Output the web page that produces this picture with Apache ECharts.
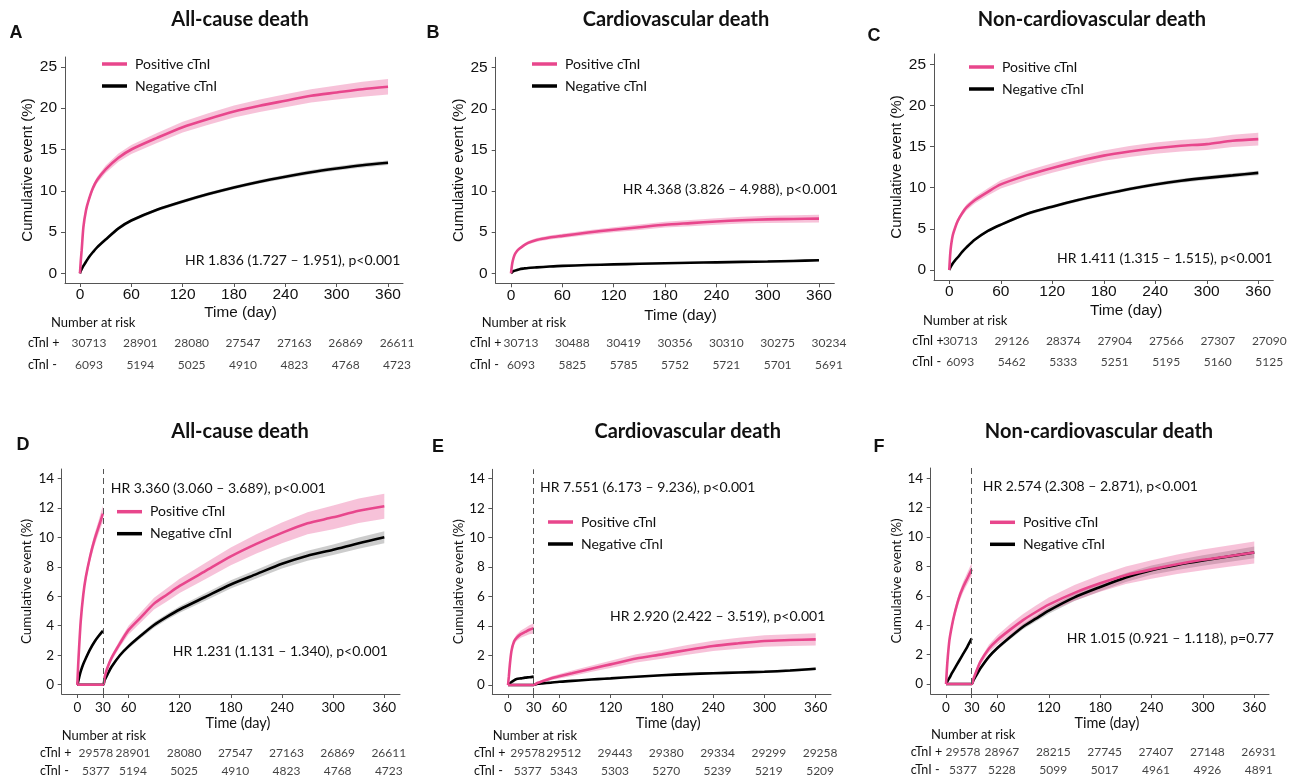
<!DOCTYPE html>
<html><head><meta charset="utf-8">
<script src="https://cdn.jsdelivr.net/npm/echarts@6/dist/echarts.min.js"></script>
<style>html,body{margin:0;padding:0;background:#fff}#c{width:1301px;height:781px}</style>
</head><body><div id="c"></div>
<script>
// ---------- time grids ----------
const topDays   = [0,1,2,4,7,10,15,20,30,45,60,90,120,150,180,210,240,270,300,330,360];
const earlyDays = [0,1,2,4,7,10,15,20,25,30];
const lateDays  = [0,30,32,35,40,50,60,75,90,105,120,150,180,210,240,270,300,330,360];
const topTicks  = [0,60,120,180,240,300,360];
const botTicks  = [0,30,60,120,180,240,300,360];
const topYTicks = [0,5,10,15,20,25];
const botYTicks = [0,2,4,6,8,10,12,14];
const topRiskDays = [0,60,120,180,240,300,360];
const botRiskDays = [30,60,120,180,240,300,360];

// ---------- Panel A : All-cause death ----------
const A_pos   = [0,1.6,2.8,5.6,7.6,8.8,10.3,11.3,12.6,14.0,15.0,16.4,17.7,18.7,19.6,20.3,20.9,21.5,21.9,22.3,22.6];
const A_posCI = [0,0.1,0.15,0.2,0.25,0.3,0.35,0.4,0.45,0.5,0.55,0.6,0.65,0.7,0.72,0.75,0.78,0.8,0.85,0.9,0.95];
const A_neg   = [0,0.3,0.5,0.9,1.4,1.9,2.55,3.15,4.1,5.45,6.4,7.7,8.7,9.6,10.4,11.1,11.7,12.25,12.7,13.1,13.4];
const A_negCI = [0,0.03,0.05,0.06,0.08,0.1,0.11,0.12,0.14,0.16,0.17,0.19,0.2,0.21,0.22,0.23,0.24,0.25,0.26,0.27,0.28];
const A_riskPos = [30713,28901,28080,27547,27163,26869,26611];
const A_riskNeg = [6093,5194,5025,4910,4823,4768,4723];

// ---------- Panel B : Cardiovascular death ----------
const B_pos   = [0,0.9,1.5,2.2,2.7,3.0,3.4,3.7,4.05,4.35,4.55,4.95,5.3,5.6,5.9,6.1,6.3,6.45,6.55,6.6,6.65];
const B_posCI = [0,0.08,0.1,0.13,0.15,0.17,0.19,0.21,0.23,0.25,0.27,0.29,0.31,0.33,0.35,0.37,0.39,0.41,0.43,0.45,0.47];
const B_neg   = [0,0.1,0.2,0.3,0.4,0.5,0.58,0.65,0.72,0.82,0.9,1.0,1.08,1.15,1.22,1.28,1.33,1.38,1.43,1.5,1.58];
const B_negCI = [0,0.02,0.03,0.04,0.05,0.06,0.06,0.07,0.07,0.08,0.08,0.09,0.09,0.1,0.1,0.11,0.11,0.12,0.12,0.13,0.13];
const B_riskPos = [30713,30488,30419,30356,30310,30275,30234];
const B_riskNeg = [6093,5825,5785,5752,5721,5701,5691];

// ---------- Panel C : Non-cardiovascular death ----------
const C_pos   = [0,1.8,2.9,4.2,5.2,6.0,6.9,7.6,8.5,9.5,10.4,11.5,12.4,13.2,13.9,14.4,14.8,15.1,15.3,15.7,15.9];
const C_posCI = [0,0.1,0.15,0.2,0.25,0.28,0.32,0.36,0.4,0.45,0.5,0.55,0.58,0.6,0.63,0.66,0.68,0.7,0.72,0.75,0.78];
const C_neg   = [0,0.25,0.45,0.8,1.2,1.55,2.2,2.75,3.7,4.75,5.5,6.8,7.7,8.5,9.2,9.85,10.4,10.85,11.2,11.5,11.8];
const C_negCI = [0,0.03,0.05,0.06,0.08,0.1,0.11,0.12,0.14,0.15,0.16,0.18,0.19,0.2,0.21,0.22,0.23,0.24,0.25,0.26,0.27];
const C_riskPos = [30713,29126,28374,27904,27566,27307,27090];
const C_riskNeg = [6093,5462,5333,5251,5195,5160,5125];

// ---------- Panel D : All-cause death (landmark) ----------
const D_posEarly   = [0,1.3,2.4,4.3,6.1,7.3,8.7,9.8,10.7,11.6];
const D_posEarlyCI = [0,0.1,0.15,0.2,0.25,0.3,0.35,0.4,0.45,0.55];
const D_negEarly   = [0,0.2,0.45,0.9,1.4,1.8,2.4,2.9,3.3,3.65];
const D_negEarlyCI = [0,0.03,0.05,0.07,0.09,0.1,0.12,0.13,0.14,0.15];
const D_posLate    = [0,0,0.5,1.1,1.8,2.8,3.7,4.6,5.5,6.1,6.7,7.7,8.7,9.55,10.3,10.95,11.35,11.8,12.1];
const D_posLateCI  = [0,0,0.1,0.15,0.2,0.25,0.3,0.35,0.4,0.45,0.48,0.55,0.6,0.65,0.7,0.75,0.8,0.83,0.85];
const D_negLate    = [0,0,0.3,0.65,1.2,2.0,2.6,3.35,4.05,4.6,5.1,5.95,6.8,7.5,8.2,8.75,9.15,9.6,10.0];
const D_negLateCI  = [0,0,0.05,0.07,0.1,0.12,0.14,0.16,0.18,0.2,0.22,0.25,0.28,0.3,0.32,0.34,0.36,0.38,0.4];
const D_riskPos = [29578,28901,28080,27547,27163,26869,26611];
const D_riskNeg = [5377,5194,5025,4910,4823,4768,4723];

// ---------- Panel E : Cardiovascular death (landmark) ----------
const E_posEarly   = [0,0.6,1.3,2.3,2.95,3.2,3.45,3.6,3.75,3.85];
const E_posEarlyCI = [0,0.05,0.1,0.15,0.2,0.22,0.25,0.27,0.3,0.35];
const E_negEarly   = [0,0.05,0.1,0.2,0.32,0.4,0.45,0.5,0.53,0.57];
const E_negEarlyCI = [0,0.01,0.02,0.03,0.04,0.05,0.05,0.06,0.06,0.07];
const E_posLate    = [0,0,0.06,0.15,0.25,0.45,0.6,0.8,1.0,1.2,1.4,1.8,2.08,2.38,2.65,2.83,2.99,3.05,3.1];
const E_posLateCI  = [0,0,0.05,0.07,0.1,0.12,0.15,0.18,0.2,0.22,0.24,0.28,0.3,0.33,0.35,0.37,0.39,0.4,0.42];
const E_negLate    = [0,0,0.04,0.08,0.11,0.16,0.22,0.28,0.34,0.4,0.45,0.56,0.66,0.74,0.8,0.85,0.9,0.98,1.1];
const E_negLateCI  = [0,0,0.01,0.02,0.02,0.03,0.03,0.04,0.04,0.05,0.05,0.06,0.06,0.07,0.07,0.08,0.08,0.09,0.09];
const E_riskPos = [29578,29512,29443,29380,29334,29299,29258];
const E_riskNeg = [5377,5343,5303,5270,5239,5219,5209];

// ---------- Panel F : Non-cardiovascular death (landmark) ----------
const F_posEarly   = [0,1.0,1.8,3.0,4.0,4.8,5.85,6.6,7.2,7.8];
const F_posEarlyCI = [0,0.1,0.15,0.2,0.25,0.3,0.33,0.36,0.4,0.45];
const F_negEarly   = [0,0.12,0.22,0.42,0.75,1.05,1.55,2.05,2.55,3.1];
const F_negEarlyCI = [0,0.03,0.04,0.05,0.07,0.08,0.1,0.11,0.12,0.13];
const F_posLate    = [0,0,0.35,0.8,1.5,2.4,3.0,3.7,4.35,4.9,5.4,6.2,6.85,7.4,7.8,8.15,8.45,8.7,8.95];
const F_posLateCI  = [0,0,0.1,0.15,0.2,0.28,0.32,0.38,0.42,0.45,0.48,0.53,0.57,0.6,0.63,0.66,0.7,0.72,0.75];
const F_negLate    = [0,0,0.25,0.55,1.05,1.85,2.45,3.2,3.9,4.45,5.0,5.9,6.6,7.25,7.75,8.1,8.4,8.68,8.95];
const F_negLateCI  = [0,0,0.05,0.07,0.1,0.12,0.14,0.16,0.18,0.2,0.22,0.25,0.28,0.3,0.32,0.34,0.36,0.38,0.4];
const F_riskPos = [29578,28967,28215,27745,27407,27148,26931];
const F_riskNeg = [5377,5228,5099,5017,4961,4926,4891];

// ---------- styling ----------
const PINK = '#e8468c', BLACK = '#000000';
const PINK_BAND = 'rgba(232,70,140,0.33)', GRAY_BAND = 'rgba(0,0,0,0.2)';
const CAL = 'Lato, "Open Sans", sans-serif';
const HEL = '"Liberation Sans", Arial, sans-serif';
const AXC = '#555555', TXT = '#111111';

const panels = [
 {top:true, g:{left:65,top:57,width:338,height:226}, xr:[-17.5,377.5], yr:[-1.17,26.2], xg:22, xp:13, yg:30,
  rg:{top:332,height:44}, rm:37, roff:[9,9], nar:[51,323], leg:[102,55], title:[240,20,'All-cause death'], letter:[16,33,'A'],
  hr:[[185,260,'HR 1.836 (1.727 – 1.951), p<0.001']],
  lines:[[topDays,A_pos,A_posCI,topDays,A_neg,A_negCI]], risk:[A_riskPos,A_riskNeg]},
 {top:true, g:{left:495.7,top:57.3,width:338.6,height:226}, xr:[-17.9,377.9], yr:[-1.22,26.26], xg:24.7, xp:31, yg:29.5,
  rg:{top:332,height:44}, rm:25.7, roff:[10,10], nar:[481.7,323], leg:[532,55], title:[676,20,'Cardiovascular death'], letter:[433,33,'B'],
  hr:[[622.7,189,'HR 4.368 (3.826 – 4.988), p<0.001']],
  lines:[[topDays,B_pos,B_posCI,topDays,B_neg,B_negCI]], risk:[B_riskPos,B_riskNeg]},
 {top:true, g:{left:934,top:54,width:339.3,height:226}, xr:[-17.8,377.5], yr:[-1.215,26.25], xg:23, xp:45, yg:29,
  rg:{top:330.5,height:42}, rm:21.7, roff:[11,11], nar:[923,321], leg:[969,58], title:[1092,20,'Non-cardiovascular death'], letter:[874,36,'C'],
  hr:[[1057,258,'HR 1.411 (1.315 – 1.515), p<0.001']],
  lines:[[topDays,C_pos,C_posCI,topDays,C_neg,C_negCI]], risk:[C_riskPos,C_riskNeg]},
 {top:false, g:{left:61.7,top:469,width:338.3,height:225}, xr:[-18.3,378.4], yr:[-0.63,14.63], xg:21.8, xp:14, yg:28,
  rg:{top:743.5,height:36.6}, rm:21.7, roff:[-7,4.5], nar:[61.7,735.7], leg:[117,502.7], title:[240,431.7,'All-cause death'], letter:[23,445,'D'],
  hr:[[110.7,488,'HR 3.360 (3.060 – 3.689), p<0.001'],[172.7,651,'HR 1.231 (1.131 – 1.340), p<0.001']],
  lines:[[earlyDays,D_posEarly,D_posEarlyCI,earlyDays,D_negEarly,D_negEarlyCI],[lateDays,D_posLate,D_posLateCI,lateDays,D_negLate,D_negLateCI]], risk:[D_riskPos,D_riskNeg]},
 {top:false, g:{left:492.3,top:469.3,width:338.7,height:224.7}, xr:[-18.4,377.9], yr:[-0.61,14.64], xg:21.8, xp:13, yg:27,
  rg:{top:743.5,height:36.6}, rm:18.3, roff:[-6,4.4], nar:[492.7,736], leg:[548,513], title:[687.7,432,'Cardiovascular death'], letter:[438,447,'E'],
  hr:[[540,487.7,'HR 7.551 (6.173 – 9.236), p<0.001'],[610,616.7,'HR 2.920 (2.422 – 3.519), p<0.001']],
  lines:[[earlyDays,E_posEarly,E_posEarlyCI,earlyDays,E_negEarly,E_negEarlyCI],[lateDays,E_posLate,E_posLateCI,lateDays,E_negLate,E_negLateCI]], risk:[E_riskPos,E_riskNeg]},
 {top:false, g:{left:930.7,top:468,width:338.3,height:226}, xr:[-17.9,377.2], yr:[-0.68,14.7], xg:21, xp:14, yg:27,
  rg:{top:742.5,height:36.6}, rm:20, roff:[-8.7,4.5], nar:[931,735], leg:[990,513.3], title:[1099,431.7,'Non-cardiovascular death'], letter:[879,446.7,'F'],
  hr:[[982.7,486,'HR 2.574 (2.308 – 2.871), p<0.001'],[1066.7,638.3,'HR 1.015 (0.921 – 1.118), p=0.77']],
  lines:[[earlyDays,F_posEarly,F_posEarlyCI,earlyDays,F_negEarly,F_negEarlyCI],[lateDays,F_posLate,F_posLateCI,lateDays,F_negLate,F_negLateCI]], risk:[F_riskPos,F_riskNeg]}
];

function pts(days, vals){ return days.map((d,i)=>[d, vals[i]]); }
function bandPts(days, vals, hw){ return days.map((d,i)=>[d, vals[i]-hw[i], vals[i]+hw[i]]); }

function bandSeries(idx, points, fill){
  return {type:'custom', xAxisIndex:idx, yAxisIndex:idx, data:points, silent:true, z:1, animation:false,
    encode:{x:0, y:[1,2]},
    renderItem:function(params, api){
      if (params.dataIndex !== 0) return null;
      const up = points.map(p=>api.coord([p[0], p[2]]));
      const lo = points.map(p=>api.coord([p[0], p[1]])).reverse();
      return {type:'polygon', shape:{points:up.concat(lo)}, style:{fill:fill}};
    }};
}
function lineSeries(name, idx, data, color, z){
  return {type:'line', name:name, xAxisIndex:idx, yAxisIndex:idx, data:data, symbol:'none', showSymbol:false,
    smooth:0.25, lineStyle:{color:color, width:2.6}, itemStyle:{color:color}, z:z, silent:true, animation:false};
}

const grid=[], xAxis=[], yAxis=[], series=[], legend=[], graphic=[];
function txt(x, y, text, o){
  return {type:'text', x:x, y:y, silent:true, z:100,
    style:Object.assign({text:text, fill:TXT, align:'left', verticalAlign:'middle', textAlign:'left', textVerticalAlign:'middle',
      fontFamily:CAL, fontSize:14}, o||{})};
}

panels.forEach((p, i)=>{
  const fam = p.top ? HEL : CAL;
  const tickFs = p.top ? 15.5 : 13.5;
  const nameFs = p.top ? 15.3 : 14.5;
  const yNameFs = p.top ? 15 : 13.5;
  const pi = grid.length;
  grid.push(Object.assign({outerBoundsMode:'none', containLabel:false}, p.g));
  const xt = p.top ? topTicks : botTicks;
  const yt = p.top ? topYTicks : botYTicks;
  xAxis.push({type:'value', gridIndex:pi, min:p.xr[0], max:p.xr[1],
    axisLine:{show:true, onZero:false, lineStyle:{color:AXC, width:1}},
    axisTick:{show:true, customValues:xt, length:4, lineStyle:{color:AXC}},
    axisLabel:{customValues:xt, fontFamily:fam, fontSize:tickFs, color:TXT, margin:p.top?4:6.5},
    splitLine:{show:false},
    name:'Time (day)', nameLocation:'middle', nameGap:p.xg,
    nameTextStyle:{fontFamily:fam, fontSize:nameFs, color:TXT, padding:[0,0,0,p.xp]}});
  yAxis.push({type:'value', gridIndex:pi, min:p.yr[0], max:p.yr[1],
    axisLine:{show:true, onZero:false, lineStyle:{color:AXC, width:1}},
    axisTick:{show:true, customValues:yt, length:4, lineStyle:{color:AXC}},
    axisLabel:{customValues:yt, fontFamily:fam, fontSize:tickFs, color:TXT, margin:p.top?8:7.5},
    splitLine:{show:false},
    name:'Cumulative event (%)', nameLocation:'middle', nameGap:p.yg,
    nameTextStyle:{fontFamily:fam, fontSize:yNameFs, color:TXT}});

  // bands
  p.lines.forEach(L=>{
    series.push(bandSeries(pi, bandPts(L[3],L[4],L[5]), GRAY_BAND));
    series.push(bandSeries(pi, bandPts(L[0],L[1],L[2]), PINK_BAND));
  });
  // negative lines
  p.lines.forEach((L,k)=>{
    const s = lineSeries('Negative cTnI', pi, pts(L[3],L[4]), BLACK, 2);
    if (!p.top && k===0) {
      s.markLine = {silent:true, symbol:'none', animation:false, label:{show:false},
        lineStyle:{type:[6,4], color:'#555', width:1}, data:[{xAxis:30}]};
    }
    series.push(s);
  });
  // positive lines
  p.lines.forEach(L=>{ series.push(lineSeries('Positive cTnI', pi, pts(L[0],L[1]), PINK, 3)); });

  legend.push({data:['Positive cTnI','Negative cTnI'], orient:'vertical', left:p.leg[0], top:p.leg[1], padding:0,
    icon:'rect', itemWidth:25, itemHeight:3.5, itemGap:4, selectedMode:false,
    textStyle:{fontFamily:CAL, fontSize:14, color:TXT, lineHeight:18, padding:[0,0,0,3]}});

  // risk table grid
  const ri = grid.length;
  grid.push({outerBoundsMode:'none', containLabel:false, left:p.g.left, width:p.g.width, top:p.rg.top, height:p.rg.height});
  xAxis.push({type:'value', gridIndex:ri, min:p.xr[0], max:p.xr[1], show:false});
  yAxis.push({type:'category', gridIndex:ri, data:['cTnI -','cTnI +'],
    axisLine:{show:false}, axisTick:{show:false}, splitLine:{show:false},
    axisLabel:{align:'left', margin:p.rm, fontFamily:CAL, fontSize:12.5, color:TXT}});
  const rdays = p.top ? topRiskDays : botRiskDays;
  const rdata = [];
  [1,0].forEach((row, r)=>{
    const vals = p.risk[r];
    rdays.forEach((d,k)=>{
      rdata.push({value:[d, row, vals[k]], label:{offset:[k===0?p.roff[0]:p.roff[1], 0]}});
    });
  });
  series.push({type:'scatter', xAxisIndex:ri, yAxisIndex:ri, data:rdata, symbolSize:1, silent:true, animation:false,
    itemStyle:{color:'rgba(0,0,0,0)'},
    label:{show:true, position:'inside', formatter:(q)=>String(q.value[2]), fontFamily:CAL, fontSize:12, color:TXT}});

  // texts
  graphic.push(txt(p.title[0], p.title[1], p.title[2], {align:'center', textAlign:'center', fontWeight:'bold', fontSize:20}));
  graphic.push(txt(p.letter[0], p.letter[1], p.letter[2], {align:'center', textAlign:'center', fontWeight:'bold', fontSize:18, fontFamily:HEL}));
  p.hr.forEach(h=>graphic.push(txt(h[0], h[1], h[2], {fontSize:14})));
  graphic.push(txt(p.nar[0], p.nar[1], 'Number at risk', {fontSize:13}));
});

const chart = echarts.init(document.getElementById('c'), null, {renderer:'canvas'});
chart.setOption({backgroundColor:'#ffffff', animation:false, grid, xAxis, yAxis, series, legend, graphic});
</script></body></html>
